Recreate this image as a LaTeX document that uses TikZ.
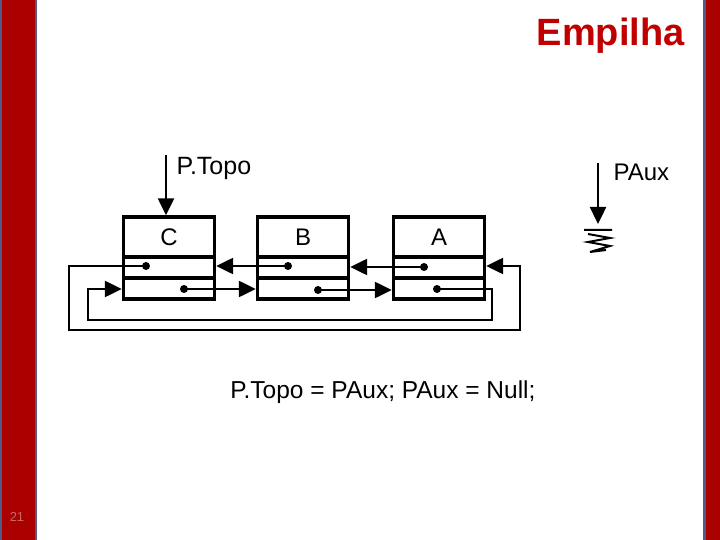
\documentclass[tikz,border=0pt]{standalone}
\usepackage{fontspec}
\setmainfont{Liberation Sans}
\usetikzlibrary{arrows.meta}
\definecolor{barred}{RGB}{170,0,0}
\definecolor{bartrim}{RGB}{80,90,130}
\definecolor{titlered}{RGB}{192,0,0}
\begin{document}
\begin{tikzpicture}[x=1pt,y=-1pt,
  cell/.style={draw,line width=3.4pt,minimum width=91pt,minimum height=21pt,inner sep=0pt},
  lnk/.style={line width=2.4pt,-{Triangle[length=17pt,width=16pt]}},
  dot/.style={circle,fill,inner sep=0pt,minimum size=8pt}]
\useasboundingbox (0,0) rectangle (720,540);
\fill[bartrim] (0,0) rectangle (37,540);
\fill[barred] (2,0) rectangle (35,540);
\fill[bartrim] (703,0) rectangle (720,540);
\fill[barred] (706,0) rectangle (720,540);
\node[text=titlered,font=\bfseries\fontsize{38}{44}\selectfont,anchor=east] (title) at (688,36) {Empilha};
\node[text=barred!60!white,font=\fontsize{13}{15}\selectfont] (pg) at (17,517) {21};
% boxes
\foreach \n/\x/\l in {c/169/C,b/303/B,a/439/A}{
  \node[cell,minimum height=40pt] (\n t) at (\x,237) {\fontsize{24}{28}\selectfont \l};
  \node[cell] (\n m) at (\x,267.5) {};
  \node[cell] (\n d) at (\x,288.5) {};
}
\node[dot] (cm) at (146,266) {};
\node[dot] (bm) at (288,266) {};
\node[dot] (am) at (424,267) {};
\node[dot] (cd) at (184,289) {};
\node[dot] (bd) at (318,290) {};
\node[dot] (ad) at (437,289) {};
\draw[lnk] (bm.center) -- (bm.center -| ct.east);
\draw[lnk] (am.center) -- (am.center -| bt.east);
\draw[lnk] (cd.center) -- (cd.center -| bt.west);
\draw[lnk] (bd.center) -- (bd.center -| at.west);
\draw[lnk] (cm.center) -- (69,266) -- (69,330) -- (520,330) -- (520,266) -- (at.east |- 0,266);
\draw[lnk] (ad.center) -- (492,289) -- (492,320) -- (88,320) -- (88,289) -- (ct.west |- 0,289);
% P.Topo
\coordinate (pt) at (166,155);
\draw[lnk] (pt) -- (ct.north -| pt);
\node[anchor=west,font=\fontsize{25}{30}\selectfont] (ptl) at (173,168) {P.Topo};
% PAux
\coordinate (pa) at (598,163);
\coordinate (pg0) at (598,224);
\draw[lnk] (pa) -- (pg0);
\draw[line width=2pt] (584,230) -- (612,230) (588,234) -- (610,238) -- (588,242) -- (610,246) -- (590,252) -- (606,250);
\node[anchor=west,font=\fontsize{24}{28}\selectfont] (pal) at (610,172) {PAux};
\node[font=\fontsize{24.5}{29}\selectfont] (code) at (383,392) {P.Topo = PAux; PAux = Null;};
\end{tikzpicture}
\end{document}
